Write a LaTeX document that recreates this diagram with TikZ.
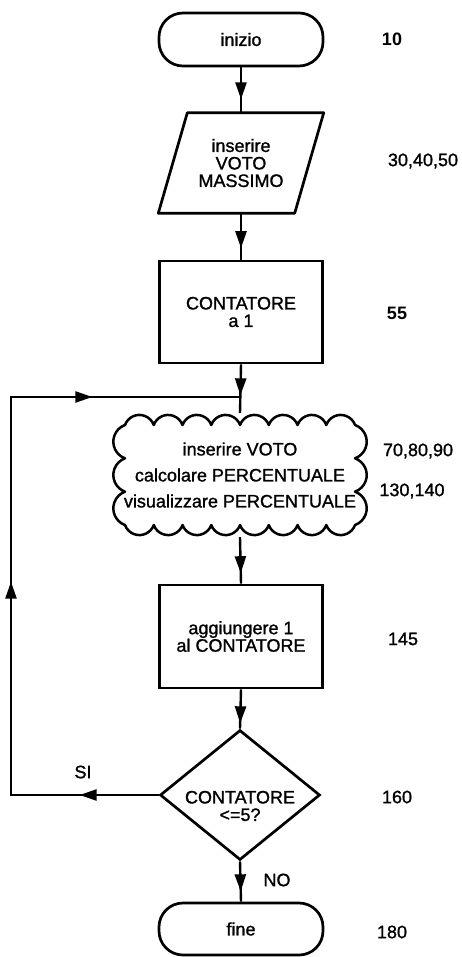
\documentclass[tikz,border=0pt]{standalone}
\usepackage{fontspec}
\setmainfont{Liberation Sans}[FakeBold=1.2]
\newfontfamily\boldnum{Liberation Sans Bold}
\usetikzlibrary{shapes.geometric,arrows.meta,decorations.markings}
\tikzset{
  shp/.style={draw=black,line width=2.7pt,align=center,font=\fontsize{18}{17.5}\selectfont,inner sep=0pt},
  term/.style={shp,rectangle,rounded corners=24pt,minimum width=164pt,minimum height=53pt},
  boxnode/.style={shp,rectangle,minimum width=163pt,minimum height=103pt},
  ghost/.style={rectangle,draw=none,align=center,inner sep=0pt,font=\fontsize{18}{17.5}\selectfont},
  lbl/.style={font=\fontsize{18}{18}\selectfont,inner sep=0pt},
  conn/.style={line width=2.4pt,draw=black},
  tip/.style={postaction={decorate},decoration={markings,mark=at position #1 with {\arrow{Triangle[length=17pt,width=11pt]}}}}
}
\begin{document}
\begin{tikzpicture}[x=1pt,y=1pt]
\useasboundingbox (0,0) rectangle (462,-957);
\fill[white] (0,0) rectangle (462,-957);

% nodes
\node[term] (inizio) at (241,-39.5) {inizio};
\node[ghost,minimum width=165pt,minimum height=100pt] (para) at (241,-163) {inserire\\VOTO\\MASSIMO};
\draw[line width=2.7pt,line join=round] (para.south west) -- ([xshift=29pt]para.north west) -- (para.north east) -- ([xshift=-29pt]para.south east) -- cycle;
\node[boxnode,minimum height=102pt] (box1) at (241,-312) {CONTATORE\\a 1};
\node[ghost,minimum width=256pt,minimum height=124pt,font=\fontsize{18}{26}\selectfont] (cloud) at (240,-475) {inserire VOTO\\calcolare PERCENTUALE\\visualizzare PERCENTUALE};
\draw[line width=2.5pt,line join=round] (125,-425)
  foreach \i in {1,...,8} { arc[start angle=160,end angle=20,radius=15.3pt] }
  foreach \i in {1,...,3} { arc[start angle=70,end angle=-70,radius=17.74pt] }
  foreach \i in {1,...,8} { arc[start angle=-20,end angle=-160,radius=15.3pt] }
  foreach \i in {1,...,3} { arc[start angle=-110,end angle=-250,radius=17.74pt] } -- cycle;
\node[boxnode] (box3) at (241,-636.5) {aggiungere 1\\al CONTATORE};
\node[shp,diamond,minimum width=160pt,minimum height=130pt] (dia) at (240,-795) {};
\node[ghost] (diatext) at (240,-806) {CONTATORE\\<=5?};
\node[term,minimum height=52pt] (fine) at (241,-929) {fine};

% line numbers
\node[lbl,font=\fontsize{18}{18}\boldnum] (n10) at (392,-39) {10};
\node[lbl] (n30) at (423,-161) {30,40,50};
\node[lbl,font=\fontsize{18}{18}\boldnum] (n55) at (397,-313) {55};
\node[lbl] (n70) at (418,-451) {70,80,90};
\node[lbl] (n130) at (412,-491) {130,140};
\node[lbl] (n145) at (403,-639) {145};
\node[lbl] (n160) at (397,-797) {160};
\node[lbl] (n180) at (392,-932) {180};
\node[lbl] (si) at (83,-772) {SI};
\node[lbl] (no) at (277,-880) {NO};

% connectors
\coordinate (join) at (241,-397);
\coordinate (cl) at (11,-795);
\coordinate (tl) at (11,-397);
\draw[conn,tip=32pt] (inizio.south) -- (para.north);
\draw[conn,tip=35pt] (para.south) -- (box1.north);
\draw[conn,tip=31pt] (box1.south) -- (cloud.north);
\draw[conn,tip=36pt] (cloud.south) -- (box3.north);
\draw[conn,tip=34pt] (box3.south) -- (dia.north);
\draw[conn,tip=30pt] (dia.south) -- (fine.north);
\draw[conn,postaction={decorate},decoration={markings,
   mark=at position 79pt with {\arrow{Triangle[length=17pt,width=11pt]}},
   mark=at position 361pt with {\arrow{Triangle[length=17pt,width=11pt]}},
   mark=at position 627pt with {\arrow{Triangle[length=17pt,width=11pt]}}}]
   (dia.west) -- (cl) -- (tl) -- (join);
\end{tikzpicture}
\end{document}
